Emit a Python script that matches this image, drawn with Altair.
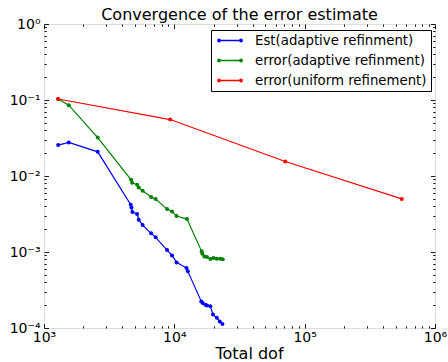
import altair as alt
import pandas as pd

# ---- data ----
est_x = [1285, 1549, 2583, 4630, 4690, 4770, 5180, 5330, 5710, 6630, 7190, 8790, 9600,
         10400, 12400, 12700, 16100, 16500, 17300, 17800, 18900, 19800, 21200, 22300, 23400]
est_y = [0.0255, 0.0276, 0.0208, 0.00419, 0.00386, 0.00336, 0.00316, 0.00266, 0.00226,
         0.00176, 0.00156, 0.00106, 0.000902, 0.00073, 0.000615, 0.000556, 0.000224,
         0.000214, 0.000203, 0.000197, 0.000193, 0.00015, 0.000136, 0.000122, 0.000113]

err_ad_x = [1285, 1549, 2583, 4660, 4740, 5180, 5330, 5710, 6630, 7190, 8790, 9600, 10400,
            12500, 16200, 16400, 17000, 17800, 18900, 20000, 21200, 22500, 23500]
err_ad_y = [0.103, 0.0855, 0.032, 0.00891, 0.00814, 0.00766, 0.00706, 0.00639, 0.00528,
            0.00497, 0.00367, 0.00341, 0.00297, 0.00271, 0.00102, 0.00095, 0.000875,
            0.000861, 0.00081, 0.000834, 0.000817, 0.000817, 0.0008]

err_un_x = [1285, 9300, 71000, 556000]
err_un_y = [0.103, 0.0553, 0.0155, 0.0050]

series = ["Est(adaptive refinment)", "error(adaptive refinment)", "error(uniform refinement)"]
colors = ["#0000ff", "#008000", "#ff0000"]
title_text = ["Convergence of the error estimate"]

x_ticks_major = [1e3, 1e4, 1e5, 1e6]
y_ticks_major = [1e-4, 1e-3, 1e-2, 1e-1, 1e0]

# ---- table ----
rows = []
for name, xs, ys in zip(series, [est_x, err_ad_x, err_un_x], [est_y, err_ad_y, err_un_y]):
    for i, (a, b) in enumerate(zip(xs, ys)):
        rows.append({"dof": a, "err": b, "series": name, "order": i})
df = pd.DataFrame(rows)

def with_minor(majors):
    vals = []
    for m in majors[:-1]:
        for k in range(1, 10):
            vals.append(float(f"{k * m:.10g}"))
    vals.append(majors[-1])
    return vals

x_vals = with_minor(x_ticks_major)
y_vals = with_minor(y_ticks_major)

W, H = 391, 304
MAJ, MIN = 4.5, 2.3
is_major = "abs(log(datum.value)/LN10 - round(log(datum.value)/LN10)) < 1e-6"

x_label = ("datum.value == 1000 ? '10³' : datum.value == 10000 ? '10⁴' : "
           "datum.value == 100000 ? '10⁵' : datum.value == 1000000 ? '10⁶' : ''")
y_label = ("abs(datum.value - 1) < 1e-12 ? '10⁰' : abs(datum.value - 0.1) < 1e-12 ? '10⁻¹' : "
           "abs(datum.value - 0.01) < 1e-12 ? '10⁻²' : abs(datum.value - 0.001) < 1e-12 ? '10⁻³' : "
           "abs(datum.value - 0.0001) < 1e-12 ? '10⁻⁴' : ''")

FONT = "DejaVu Sans"

x_axis = alt.Axis(
    values=x_vals, ticks=False, domain=False, grid=True,
    gridColor="#000000", gridWidth=0.9, gridOpacity=1,
    gridDash={"condition": {"test": is_major, "value": [MAJ, H - 2 * MAJ, MAJ, 2000]},
              "value": [MIN, H - 2 * MIN, MIN, 2000]},
    labelExpr=x_label, labelFont=FONT, labelFontSize=14, labelColor="#000000",
    labelPadding=2, labelOverlap=False, labelFlush=False,
    title="Total dof", titleFont=FONT, titleFontSize=16, titleFontWeight="normal",
    titleColor="#000000", titleBaseline="alphabetic", titleY=30.5, titleX=205,
)
y_axis = alt.Axis(
    values=y_vals, ticks=False, domain=False, grid=True,
    gridColor="#000000", gridWidth=0.9, gridOpacity=1,
    gridDash={"condition": {"test": is_major, "value": [MAJ, W - 2 * MAJ, MAJ, 2000]},
              "value": [MIN, W - 2 * MIN, MIN, 2000]},
    labelExpr=y_label, labelFont=FONT, labelFontSize=14, labelColor="#000000",
    labelPadding=4, labelOverlap=False, labelFlush=False, title=None,
)

sym = ("M-0.786,0H0.786"
       "M-0.875,0a0.089,0.089 0 1,0 0.178,0a0.089,0.089 0 1,0 -0.178,0"
       "M0.697,0a0.089,0.089 0 1,0 0.178,0a0.089,0.089 0 1,0 -0.178,0")

legend = alt.Legend(
    title=None, orient="none", legendX=167, legendY=6,
    fillColor="#ffffff", strokeColor="#000000", padding=4,
    symbolType=sym, symbolSize=784, symbolStrokeWidth=1.3,
    clipHeight=13, rowPadding=6, labelOffset=10,
    labelFont=FONT, labelFontSize=13.3, labelColor="#000000", labelLimit=300,
)

lines = alt.Chart(df).mark_line(
    strokeWidth=1.2,
    point=alt.OverlayMarkDef(filled=True, size=16, opacity=1),
).encode(
    x=alt.X("dof:Q", scale=alt.Scale(type="log", domain=[1e3, 1e6], nice=False), axis=x_axis),
    y=alt.Y("err:Q", scale=alt.Scale(type="log", domain=[1e-4, 1], nice=False), axis=y_axis),
    color=alt.Color("series:N", scale=alt.Scale(domain=series, range=colors), legend=legend),
    order="order:Q",
)

title = alt.Chart(pd.DataFrame({"t": title_text})).mark_text(
    font=FONT, fontSize=16, color="#000000", align="center", baseline="alphabetic"
).encode(
    text="t:N", x=alt.value(W / 2), y=alt.value(-4)
)

chart = alt.layer(lines, title).properties(
    width=W, height=H,
    autosize=alt.AutoSizeParams(type="none"),
    padding={"left": 44, "top": 24, "right": 13, "bottom": 34},
).configure_view(
    stroke="#222222", strokeWidth=1
).configure(background="#ffffff")

chart.save("out.html", embed_options={"renderer": "svg", "actions": False})
